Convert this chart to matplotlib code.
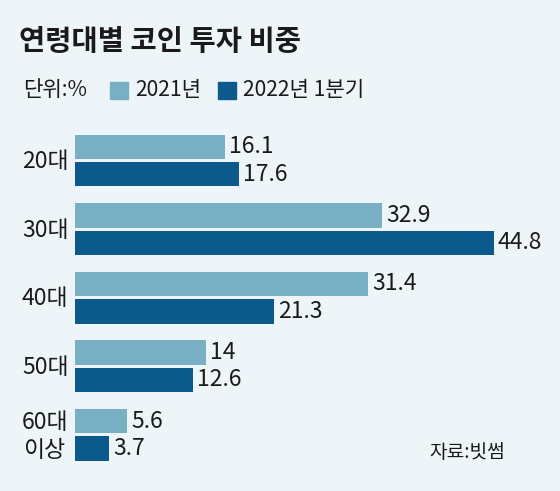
import matplotlib
matplotlib.use("Agg")
import matplotlib.pyplot as plt
import numpy as np

# ---- data ----
categories = ["20대", "30대", "40대", "50대", "60대\n이상"]
series_names = ["2021년", "2022년 1분기"]
values_2021 = [16.1, 32.9, 31.4, 14, 5.6]
values_2022q1 = [17.6, 44.8, 21.3, 12.6, 3.7]
title = "연령대별 코인 투자 비중"
unit_label = "단위:%"
source_label = "자료:빗썸"

# ---- style ----
BG = "#eef5f9"
LIGHT = "#79afc3"
DARK = "#0b5a8b"
TXT = "#1a1a1a"
KR_FONT = ["Noto Sans CJK KR", "DejaVu Sans"]
plt.rcParams["font.family"] = KR_FONT

W, H = 560, 491
fig = plt.figure(figsize=(W / 100, H / 100), dpi=100, facecolor=BG)

x0_px = 74.7
px_per_unit = 9.35
ax = fig.add_axes([x0_px / W, 0, 1 - x0_px / W, 1])
ax.set_facecolor(BG)
ax.set_xlim(0, (W - x0_px) / px_per_unit)
pitch = 68.6
c0 = 160.5
ax.set_ylim((H - c0) / pitch, (0 - c0) / pitch)
ax.axis("off")

idx = np.arange(len(categories))
bh = 24.4 / pitch
off = 13.7 / pitch
ax.barh(idx - off, values_2021, height=bh, color=LIGHT, label=series_names[0])
ax.barh(idx + off, values_2022q1, height=bh, color=DARK, label=series_names[1])

lab_off = 4 / px_per_unit
for i, (a, b) in enumerate(zip(values_2021, values_2022q1)):
    ax.text(a + lab_off, i - off, f"{a:g}", va="center", ha="left",
            fontsize=16.5, color=TXT)
    ax.text(b + lab_off, i + off, f"{b:g}", va="center", ha="left",
            fontsize=16.5, color=TXT)


def ftext(x, y, s, **kw):
    fig.text(x / W, 1 - y / H, s, **kw)


# category labels
for i, cat in enumerate(categories):
    yc = c0 + pitch * i
    if "\n" in cat:
        l1, l2 = cat.split("\n")
        ftext(22, yc - 12.5, l1, va="center", ha="left", fontsize=16.5, color=TXT)
        ftext(23, yc + 15.5, l2, va="center", ha="left", fontsize=16.5, color=TXT)
    else:
        ftext(22, yc + 1, cat, va="center", ha="left", fontsize=16.5, color=TXT)

# title
ftext(19, 42, title, va="center", ha="left", fontsize=20.5,
      fontweight="bold", color=TXT)

# legend row
ftext(23, 90, unit_label, va="center", ha="left", fontsize=15.2, color=TXT)
sq = 17.5
for xs, col, name in [(110, LIGHT, series_names[0]), (218, DARK, series_names[1])]:
    fig.patches.append(plt.Rectangle((xs / W, 1 - (81.7 + sq) / H), sq / W, sq / H,
                                     transform=fig.transFigure, color=col, figure=fig))
    ftext(xs + 25, 90, name, va="center", ha="left", fontsize=15.2, color=TXT)

# source
ftext(505, 452, source_label, va="center", ha="right", fontsize=13.8, color=TXT)

fig.savefig("out.png", dpi=100, facecolor=BG)
